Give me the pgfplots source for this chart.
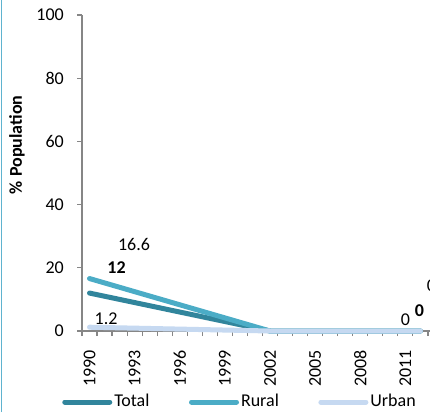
\documentclass[border=0pt]{standalone}
\usepackage{fontspec}
\setmainfont{Carlito}
\usepackage{pgfplots}
\pgfplotsset{compat=1.18}
\definecolor{totalc}{HTML}{31859C}
\definecolor{ruralc}{HTML}{4BACC6}
\definecolor{urbanc}{HTML}{C6D9F1}
\definecolor{axisgray}{HTML}{868686}
\definecolor{framec}{HTML}{5FB3CF}

\begin{document}
\fontsize{18pt}{21pt}\selectfont
\begin{tikzpicture}[x=1pt,y=1pt]
\useasboundingbox (0,0) rectangle (430,412);
\clip (0,0) rectangle (430,412);
\fill[white] (0,0) rectangle (430,412);
\draw[framec, line width=1.5pt] (1.5,0) -- (1.5,412);
\begin{axis}[
  at={(82pt,81pt)}, anchor=south west,
  scale only axis, width=376pt, height=316pt,
  xmin=1989.5, xmax=2014.5, ymin=0, ymax=100,
  axis lines=left, axis line style={-, axisgray, line width=1.5pt},
  clip=false,
  /pgf/number format/assume math mode=true,
  /pgf/number format/1000 sep={},
  xtick={1990,1993,...,2011},
  minor xtick={1989.5,1990.5,...,2014.5},
  major x tick style={draw=none},
  minor x tick style={axisgray, line width=1.2pt},
  minor tick length=5pt,
  ytick={0,20,...,100},
  y tick style={axisgray, line width=1.2pt},
  major tick length=5pt,
  tick align=outside,
  xticklabel style={rotate=90, anchor=east, inner sep=0pt},
  xticklabel shift=14pt,
  yticklabel style={anchor=east, inner sep=0pt},
  yticklabel shift=13pt,
  ylabel={\bfseries\%~Population},
  every axis y label/.style={at={(axis description cs:-0.173,0.589)}, rotate=90, anchor=center},
  legend columns=3,
  legend style={at={(axis description cs:-0.053,-0.2247)}, anchor=west, draw=none, fill=none, inner sep=0pt,
    nodes={inner sep=2pt},
    /tikz/every even column/.append style={column sep=37.5pt}},
  legend image code/.code={\draw[#1, line cap=round] (2.5pt,0pt) -- (47.5pt,0pt);},
]
\addplot[totalc, line width=5pt, line cap=round, line join=round] coordinates {(1990,12) (2002,0) (2012,0)};
\addplot[ruralc, line width=5pt, line cap=round, line join=round] coordinates {(1990,16.6) (2002,0) (2012,0)};
\addplot[urbanc, line width=5pt, line cap=round, line join=round] coordinates {(1990,1.2) (2002,0) (2012,0)};
% value labels
\addplot[forget plot, draw=none, nodes near coords, point meta=explicit symbolic,
  every node near coord/.style={anchor=center, inner sep=0pt, xshift=44.5pt, yshift=34.5pt}]
  coordinates {(1990,16.6) [16.6]};
\addplot[forget plot, draw=none, nodes near coords, point meta=explicit symbolic,
  every node near coord/.style={anchor=center, inner sep=0pt, xshift=27pt, yshift=25pt, font=\bfseries}]
  coordinates {(1990,12) [12]};
\addplot[forget plot, draw=none, nodes near coords, point meta=explicit symbolic,
  every node near coord/.style={anchor=center, inner sep=0pt, xshift=16.5pt, yshift=8.7pt}]
  coordinates {(1990,1.2) [1.2]};
\addplot[forget plot, draw=none, nodes near coords, point meta=explicit symbolic,
  every node near coord/.style={anchor=center, inner sep=0pt, xshift=-15pt, yshift=11pt}]
  coordinates {(2012,0) [0]};
\addplot[forget plot, draw=none, nodes near coords, point meta=explicit symbolic,
  every node near coord/.style={anchor=center, inner sep=0pt, xshift=-1pt, yshift=20.5pt, font=\bfseries}]
  coordinates {(2012,0) [0]};
\addplot[forget plot, draw=none, nodes near coords, point meta=explicit symbolic,
  every node near coord/.style={anchor=center, inner sep=0pt, xshift=11pt, yshift=45.5pt}]
  coordinates {(2012,0) [0]};
\legend{Total,Rural,Urban}
\end{axis}
\end{tikzpicture}
\end{document}
